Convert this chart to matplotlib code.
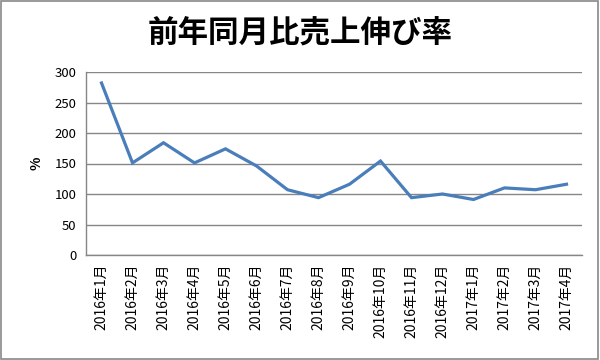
import matplotlib
matplotlib.use("Agg")
import matplotlib.pyplot as plt
from matplotlib.patches import Rectangle

plt.rcParams['font.family'] = ['Noto Sans CJK JP', 'DejaVu Sans']

categories = ["2016年1月", "2016年2月", "2016年3月", "2016年4月", "2016年5月", "2016年6月",
              "2016年7月", "2016年8月", "2016年9月", "2016年10月", "2016年11月", "2016年12月",
              "2017年1月", "2017年2月", "2017年3月", "2017年4月"]
values = [282, 151, 184, 151, 174, 146, 107, 94, 116, 154, 94, 100, 91, 110, 107, 116]
yticks = [0, 50, 100, 150, 200, 250, 300]

fig = plt.figure(figsize=(6, 3.6), dpi=100)
ax = fig.add_axes([86/600, 1-255/360, (582-86)/600, (255-72)/360])

x = list(range(len(categories)))
ax.plot(x, values, color='#4A7EBB', linewidth=2.3, solid_joinstyle='miter')

ax.set_xlim(-0.5, len(categories) - 0.5)
ax.set_ylim(0, 300)
ax.set_yticks(yticks)
ax.set_yticklabels([str(v) for v in yticks], fontsize=9.5)
ax.set_xticks(x)
ax.set_xticklabels(categories, rotation=90, fontsize=10, va='top')
ax.tick_params(axis='both', length=0, colors='black')
ax.tick_params(axis='y', pad=7)
ax.tick_params(axis='x', pad=6)

ax.grid(axis='y', color='#868686', linewidth=1)
ax.set_axisbelow(True)
for s in ['top', 'right']:
    ax.spines[s].set_visible(False)
for s in ['left', 'bottom']:
    ax.spines[s].set_color('#868686')
    ax.spines[s].set_linewidth(1)

ax.set_ylabel('%', fontsize=10, fontweight='bold', labelpad=8)
fig.text(0.5, 1-33/360, '前年同月比売上伸び率', ha='center', va='center',
         fontsize=22, fontweight='bold')

fig.add_artist(Rectangle((0.002, 0.003), 0.994, 0.994, transform=fig.transFigure,
                         fill=False, edgecolor='#888888', linewidth=1.2))

fig.savefig('out.png', dpi=100)
